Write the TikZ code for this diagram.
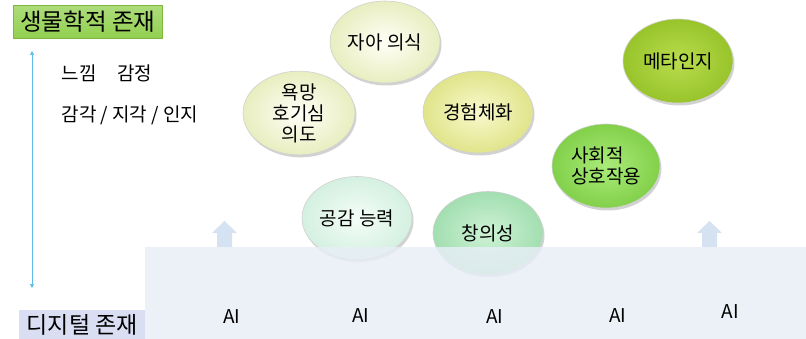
\documentclass[tikz,border=0pt]{standalone}
\usepackage{fontspec}
\setmainfont{Noto Sans CJK KR}
\usetikzlibrary{shapes.geometric,shadows,arrows.meta}
\definecolor{titlegreen}{HTML}{92D050}
\definecolor{titleedge}{HTML}{7DB83D}
\definecolor{digiblue}{HTML}{D9DEF2}
\definecolor{basefill}{HTML}{E8EEF7}
\definecolor{uparrow}{HTML}{D5E2F2}
\definecolor{vline}{HTML}{5BBDE8}
\tikzset{
  bubble/.style={ellipse, minimum width=110pt, minimum height=82pt, inner sep=0pt,
    align=center, font=\fontsize{19}{21}\selectfont,
    draw=black!18, line width=0.6pt,
    drop shadow={opacity=0.35, shadow xshift=1.5pt, shadow yshift=-2.5pt}},
  sidetext/.style={anchor=west, font=\fontsize{19}{22}\selectfont},
  ailabel/.style={font=\fontsize{19}{22}\selectfont},
  blockup/.style={fill=uparrow, draw=none},
}
\begin{document}
\begin{tikzpicture}[x=1pt,y=-1pt]
\useasboundingbox (0,0) rectangle (806,339);
\fill[white] (0,0) rectangle (806,339);

% title boxes
\node[anchor=north west, minimum width=149pt, minimum height=33pt, inner sep=0pt,
  top color=titlegreen!75!white, bottom color=titlegreen, draw=titleedge, line width=0.5pt,
  font=\fontsize{23.5}{26}\selectfont] (bio) at (13,5) {생물학적 존재};
\node[anchor=north west, minimum width=126pt, minimum height=30pt, inner sep=0pt,
  fill=digiblue, font=\fontsize{23}{26}\selectfont] (digi) at (19,310) {디지털 존재};

% vertical double arrow
\coordinate (vtop) at (32,51);
\coordinate (vbot) at (32,288);
\draw[vline, line width=0.7pt, {Triangle[length=4pt,width=4pt]}-{Triangle[length=4pt,width=4pt]}] (vtop) -- (vbot);

% side texts
\node[sidetext] (feel) at (58,73) {느낌\hspace{1.1em}감정};
\node[sidetext] (sense) at (58,115) {감각 / 지각 / 인지};

% bubbles
\node[bubble, inner color=white!60!yellow!8, outer color={rgb,255:red,232;green,238;blue,192}] (self) at (385,42) {자아 의식};
\node[bubble, inner color=white!60!yellow!8, outer color={rgb,255:red,232;green,238;blue,192}, minimum width=112pt] (desire) at (299,113) {욕망\\호기심\\의도};
\node[bubble, inner color={rgb,255:red,249;green,249;blue,205}, outer color={rgb,255:red,224;green,228;blue,138}] (exp) at (478,112) {경험체화};
\node[bubble, inner color={rgb,255:red,185;green,220;blue,78}, outer color={rgb,255:red,152;green,196;blue,42}, minimum height=84pt] (meta) at (678,61) {메타인지};
\node[bubble, inner color={rgb,255:red,170;green,236;blue,122}, outer color={rgb,255:red,130;green,208;blue,74}, minimum width=108pt, minimum height=84pt, align=left] (social) at (606,166) {사회적\\상호작용};
\node[bubble, inner color={rgb,255:red,244;green,253;blue,248}, outer color={rgb,255:red,212;green,240;blue,224}, minimum height=83pt] (empathy) at (357,218) {공감 능력};
\node[bubble, inner color={rgb,255:red,206;green,243;blue,213}, outer color={rgb,255:red,162;green,222;blue,176}, minimum height=83pt] (creat) at (488,233) {창의성};

% base area
\fill[basefill, fill opacity=0.82] (145,247) rectangle (806,339);
\node[anchor=north west, inner sep=0pt, minimum width=661pt, minimum height=92pt] (base) at (145,247) {};

% up block arrows
\fill[blockup] (217,247) -- (217,233) -- (212,233) -- (224.5,221) -- (237,233) -- (232,233) -- (232,247) -- cycle;
\fill[blockup] (702,247) -- (702,233) -- (697,233) -- (709.5,221) -- (722,233) -- (717,233) -- (717,247) -- cycle;

% AI labels
\node[ailabel] (ai1) at (232,317) {AI};
\node[ailabel] (ai2) at (361,316) {AI};
\node[ailabel] (ai3) at (495,317) {AI};
\node[ailabel] (ai4) at (618,316) {AI};
\node[ailabel] (ai5) at (730,312) {AI};
\end{tikzpicture}
\end{document}
